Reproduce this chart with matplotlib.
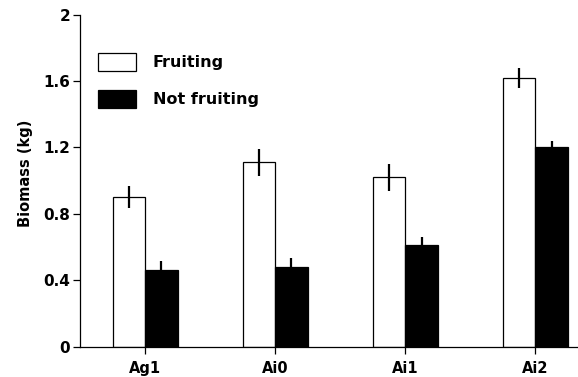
import numpy as np
import matplotlib.pyplot as plt

plt.rcParams['font.family'] = ['DejaVu Sans']

# data
sites = ["Ag1", "Ai0", "Ai1", "Ai2"]
fruiting = [0.90, 1.11, 1.02, 1.62]
fruiting_err = [0.067, 0.08, 0.08, 0.06]
not_fruiting = [0.46, 0.48, 0.61, 1.20]
not_fruiting_err = [0.056, 0.054, 0.05, 0.04]
yticks = [0, 0.4, 0.8, 1.2, 1.6, 2]
ytick_labels = ["0", "0.4", "0.8", "1.2", "1.6", "2"]

fig = plt.figure(figsize=(5.78, 3.77), dpi=100)
ax = fig.add_axes([0.1384, 0.0804, 0.86, 0.8806])

x = np.arange(len(sites))
w = 0.25
eb = dict(ecolor="black", elinewidth=1.6, capsize=0)
ax.bar(x - w/2, fruiting, w, yerr=fruiting_err, color="white", edgecolor="black",
       linewidth=0.9, error_kw=eb, label="Fruiting")
ax.bar(x + w/2, not_fruiting, w, yerr=not_fruiting_err, color="black", edgecolor="black",
       linewidth=0.9, error_kw=eb, label="Not fruiting")

ax.set_xlim(-0.5, 3.32)
ax.set_ylim(0, 2)
ax.set_xticks(x)
ax.set_xticklabels(sites, fontsize=10.5, fontweight="bold")
ax.set_yticks(yticks)
ax.set_yticklabels(ytick_labels, fontsize=11, fontweight="bold")
ax.set_ylabel("Biomass (kg)", fontsize=10.5, fontweight="bold")
ax.yaxis.set_label_coords(-0.095, 0.523)

for s in ["top", "right"]:
    ax.spines[s].set_visible(False)
ax.spines["left"].set_linewidth(0.9)
ax.spines["bottom"].set_linewidth(0.9)
ax.tick_params(axis="y", length=5, width=0.9, pad=2)
ax.tick_params(axis="x", length=5, width=0.9, pad=5)

leg = ax.legend(loc="upper left", bbox_to_anchor=(0.036, 0.886), frameon=False,
                borderpad=0, borderaxespad=0,
                handlelength=2.4, handleheight=1.38, handletextpad=1.05,
                labelspacing=1.2, prop=dict(size=11.5, weight="bold"))

fig.savefig("out.png", dpi=100)
